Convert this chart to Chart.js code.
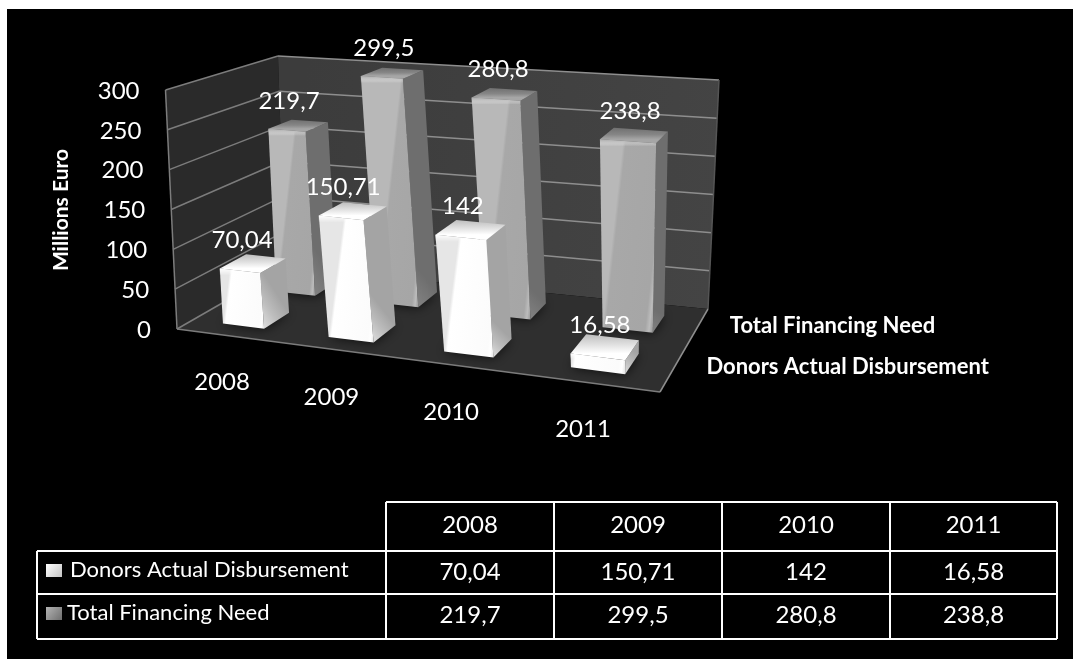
<!DOCTYPE html>
<html>
<head>
<meta charset="utf-8">
<title>Financing</title>
<script src="https://cdn.jsdelivr.net/npm/chart.js@4/dist/chart.umd.min.js"></script>
<style>
html, body { margin: 0; padding: 0; background: #fff; overflow: hidden; }
canvas { display: block; }
</style>
</head>
<body>
<canvas id="chart1" width="1073" height="659"></canvas>
<script>
const years = ['2008', '2009', '2010', '2011'];
const donorsActual = [70.04, 150.71, 142, 16.58];
const totalNeed = [219.7, 299.5, 280.8, 238.8];
const seriesNames = ['Donors Actual Disbursement', 'Total Financing Need'];
const yTicks = [0, 50, 100, 150, 200, 250, 300];

const FONT = 'Lato, "Noto Sans", sans-serif';

// corners of the floor and of the plane at the axis maximum, [u, v] = [0,0] [1,0] [1,1] [0,1]
const floorQuad = [[177, 329], [660, 392], [708, 309], [285, 267]];
const roofQuad = [[165.5, 90], [670, 134], [719, 80], [278, 56]];
const rowDepth = [[0.13, 0.36], [0.62, 0.85]];

function homography(q) {
	const [[x0, y0], [x1, y1], [x2, y2], [x3, y3]] = q;
	const dx1 = x1 - x2, dx2 = x3 - x2, sx = x0 - x1 + x2 - x3;
	const dy1 = y1 - y2, dy2 = y3 - y2, sy = y0 - y1 + y2 - y3;
	const den = dx1 * dy2 - dx2 * dy1;
	const g = (sx * dy2 - dx2 * sy) / den;
	const h = (dx1 * sy - sx * dy1) / den;
	const a = x1 - x0 + g * x1, b = x3 - x0 + h * x3;
	const d = y1 - y0 + g * y1, e = y3 - y0 + h * y3;
	return (u, v) => {
		const t = g * u + h * v + 1;
		return [(a * u + b * v + x0) / t, (d * u + e * v + y0) / t];
	};
}

const floorAt = homography(floorQuad);
const roofAt = homography(roofQuad);

// u along the years, v into the depth, w up the value axis, all 0..1
function project(u, v, w) {
	const p = floorAt(u, v), q = roofAt(u, v);
	return [p[0] + (q[0] - p[0]) * w, p[1] + (q[1] - p[1]) * w];
}

function poly(ctx, pts, fill) {
	ctx.beginPath();
	pts.forEach((p, i) => i ? ctx.lineTo(p[0], p[1]) : ctx.moveTo(p[0], p[1]));
	ctx.closePath();
	if (fill) {
		ctx.fillStyle = fill;
		ctx.fill();
	}
}

function line(ctx, a, b, color, width) {
	ctx.beginPath();
	ctx.moveTo(a[0], a[1]);
	ctx.lineTo(b[0], b[1]);
	ctx.strokeStyle = color;
	ctx.lineWidth = width;
	ctx.stroke();
}

function gradient(ctx, a, b, stops) {
	const g = ctx.createLinearGradient(a[0], a[1], b[0], b[1]);
	stops.forEach(s => g.addColorStop(s[0], s[1]));
	return g;
}

function text(ctx, str, x, y, font, align) {
	ctx.font = font;
	ctx.textAlign = align || 'center';
	ctx.textBaseline = 'middle';
	ctx.fillStyle = '#fff';
	ctx.fillText(str, x, y);
}

const barLook = [
	{
		front: [[0, '#e6e6e6'], [0.06, '#ffffff'], [0.86, '#fbfbfb'], [0.93, '#ffffff'], [1, '#e2e2e2']],
		side: [[0, '#dedede'], [0.5, '#bdbdbd'], [1, '#a4a4a4']],
		top: [[0, '#bdbdbd'], [0.6, '#e4e4e4'], [1, '#ffffff']]
	},
	{
		front: [[0, '#b8b8b8'], [0.06, '#a8a8a8'], [0.84, '#a6a6a6'], [0.92, '#bcbcbc'], [1, '#969696']],
		side: [[0, '#828282'], [1, '#6e6e6e']],
		top: [[0, '#707070'], [0.6, '#868686'], [1, '#a6a6a6']]
	}
];

function drawBox(ctx, u0, u1, v0, v1, w, look) {
	const fbl = project(u0, v0, 0), fbr = project(u1, v0, 0);
	const bbr = project(u1, v1, 0), bbl = project(u0, v1, 0);
	const ftl = project(u0, v0, w), ftr = project(u1, v0, w);
	const btr = project(u1, v1, w), btl = project(u0, v1, w);

	// soft contact shadow on the floor
	ctx.save();
	ctx.shadowColor = 'rgba(0,0,0,0.75)';
	ctx.shadowBlur = 12;
	poly(ctx, [fbl, fbr, bbr, bbl], '#1c1c1c');
	ctx.restore();

	poly(ctx, [fbr, bbr, btr, ftr], gradient(ctx, fbr, bbr, look.side));
	poly(ctx, [ftl, ftr, btr, btl], gradient(ctx, [ftl[0], btl[1]], [ftl[0], ftl[1]], look.top));
	poly(ctx, [fbl, fbr, ftr, ftl], gradient(ctx, fbl, fbr, look.front));

	// rounded lip along the top of the front face
	const lip = Math.min(7, (fbl[1] - ftl[1]) * 0.4);
	poly(ctx, [ftl, ftr, [ftr[0], ftr[1] + lip], [ftl[0], ftl[1] + lip]],
		gradient(ctx, [0, ftl[1]], [0, ftl[1] + lip], [[0, look.top[look.top.length - 1][1]], [1, 'rgba(255,255,255,0)']]));
	return { ftl, ftr, btr, btl };
}

const scene3d = {
	id: 'scene3d',
	beforeDraw(chart) {
		const ctx = chart.ctx;
		ctx.save();
		ctx.fillStyle = '#fff';
		ctx.fillRect(0, 0, chart.width, chart.height);
		ctx.fillStyle = '#000';
		ctx.fillRect(7, 9, chart.width - 7, chart.height - 9);
		ctx.restore();
	},
	beforeDatasetsDraw(chart) {
		const ctx = chart.ctx, y = chart.scales.y, area = chart.chartArea;
		const frac = val => (area.bottom - y.getPixelForValue(val)) / (area.bottom - area.top);

		ctx.save();
		// walls and floor
		poly(ctx, [project(0, 0, 0), project(0, 1, 0), project(0, 1, 1), project(0, 0, 1)], '#2a2a2a');
		poly(ctx, [project(0, 1, 0), project(1, 1, 0), project(1, 1, 1), project(0, 1, 1)],
			gradient(ctx, project(0, 1, 0), project(1, 1, 0), [[0, '#3c3c3c'], [1, '#444444']]));
		poly(ctx, [project(0, 0, 0), project(1, 0, 0), project(1, 1, 0), project(0, 1, 0)], '#2f2f2f');

		y.ticks.forEach(t => {
			const w = frac(t.value);
			line(ctx, project(0, 0, w), project(0, 1, w), '#7c7c7c', 1.5);
			if (t.value > 0) line(ctx, project(0, 1, w), project(1, 1, w), '#8e8e8e', 1.5);
			const p = project(0, 0, w);
			text(ctx, t.label, p[0] - 26, p[1] + 1, '24px ' + FONT, 'right');
		});
		line(ctx, project(0, 0, 0), project(0, 0, 1), '#7c7c7c', 1.5);
		line(ctx, project(1, 1, 0), project(1, 1, 1), '#555555', 1.5);
		line(ctx, project(0, 0, 0), project(1, 0, 0), '#7c7c7c', 1.5);
		line(ctx, project(1, 0, 0), project(1, 1, 0), '#8e8e8e', 1.5);

		// boxes, rear row first, values above them afterwards
		const tops = [];
		[1, 0].forEach(row => {
			chart.getDatasetMeta(row).data.forEach((bar, i) => {
				const u0 = (bar.x - bar.width / 2 - area.left) / area.width;
				const u1 = (bar.x + bar.width / 2 - area.left) / area.width;
				const val = chart.data.datasets[row].data[i];
				const box = drawBox(ctx, u0, u1, rowDepth[row][0], rowDepth[row][1], frac(val), barLook[row]);
				tops.push({ box, val });
			});
		});
		tops.forEach(({ box, val }) => {
			const cx = (box.ftl[0] + box.ftr[0]) / 2;
			text(ctx, String(val).replace('.', ','), cx + 2, box.ftl[1] - 28, '24px ' + FONT);
		});

		// category labels under the front edge, series labels beyond the right edge
		chart.data.labels.forEach((label, i) => {
			const p = project((chart.scales.x.getPixelForTick(i) - area.left) / area.width, 0, 0);
			text(ctx, label, p[0] - 6, p[1] + 47, '24px ' + FONT);
		});
		chart.data.datasets.forEach((ds, row) => {
			const p = project(1, (rowDepth[row][0] + rowDepth[row][1]) / 2, 0);
			text(ctx, ds.label, p[0] + 33, p[1] - 2, 'bold 22px ' + FONT, 'left');
		});
		ctx.restore();
	},
	afterDraw(chart) {
		drawTable(chart);
	}
};

// data table under the plot
function drawTable(chart) {
	const ctx = chart.ctx;
	const colX = [386, 554, 722, 890, 1057];
	const rowY = [502, 551, 594, 639];
	const left = 37;

	ctx.save();
	ctx.strokeStyle = '#fff';
	ctx.lineWidth = 2;
	ctx.beginPath();
	ctx.moveTo(colX[0], rowY[0]); ctx.lineTo(colX[4], rowY[0]);
	for (let r = 1; r < rowY.length; r++) {
		ctx.moveTo(left, rowY[r]); ctx.lineTo(colX[4], rowY[r]);
	}
	ctx.moveTo(left, rowY[1]); ctx.lineTo(left, rowY[3]);
	colX.forEach(x => { ctx.moveTo(x, rowY[0]); ctx.lineTo(x, rowY[3]); });
	ctx.stroke();

	chart.data.labels.forEach((label, c) => {
		const cx = (colX[c] + colX[c + 1]) / 2;
		text(ctx, label, cx, 525, '24px ' + FONT);
		chart.data.datasets.forEach((ds, r) => {
			text(ctx, String(ds.data[c]).replace('.', ','), cx, r ? 615 : 572, '24px ' + FONT);
		});
	});

	const swatches = [['#ffffff', '#c4c4c4'], ['#b4b4b4', '#6e6e6e']];
	chart.data.datasets.forEach((ds, r) => {
		const top = r ? 607 : 564;
		poly(ctx, [[46, top], [62, top], [62, top + 13], [46, top + 13]],
			gradient(ctx, [46, top], [62, top + 13], [[0, swatches[r][0]], [1, swatches[r][1]]]));
		text(ctx, ds.label, r ? 67 : 70, r ? 613 : 570, '22px ' + FONT, 'left');
	});
	ctx.restore();
}

const ctx1 = document.getElementById('chart1').getContext('2d');

const config = {
	type: 'bar',
	data: {
		labels: years,
		datasets: [
			{ label: seriesNames[0], data: donorsActual, backgroundColor: 'transparent' },
			{ label: seriesNames[1], data: totalNeed, backgroundColor: 'transparent' }
		]
	},
	plugins: [scene3d],
	options: {
		responsive: false,
		animation: false,
		layout: { padding: { left: 45, right: 300, top: 90, bottom: 329 } },
		datasets: { bar: { grouped: false, barPercentage: 0.4, categoryPercentage: 1 } },
		plugins: { legend: { display: false }, tooltip: { enabled: false } },
		scales: {
			x: { display: false },
			y: {
				min: 0,
				max: 300,
				afterBuildTicks(scale) {
					scale.ticks = yTicks.map(v => ({ value: v, label: String(v) }));
				},
				afterFit(scale) {
					scale.width = 132;
				},
				grid: { display: false },
				border: { display: false },
				ticks: { display: false },
				title: {
					display: true,
					text: 'Millions Euro',
					color: '#fff',
					font: { family: FONT, size: 21, weight: 'bold' },
					padding: { top: 4, bottom: 0 }
				}
			}
		}
	}
};

const chart1 = new Chart(ctx1, config);
</script>
</body>
</html>
